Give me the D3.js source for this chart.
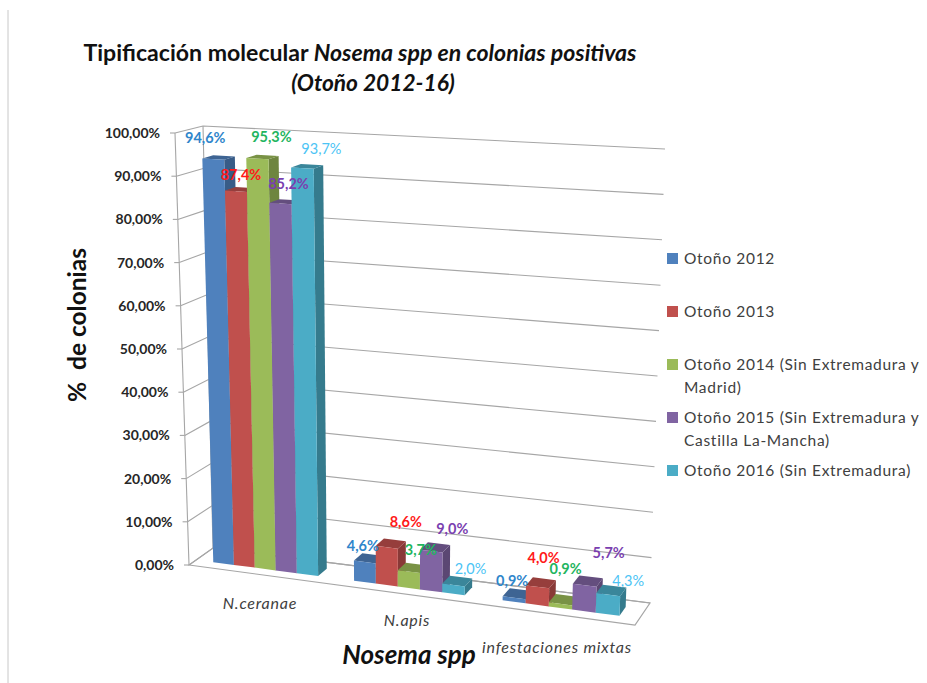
<!DOCTYPE html>
<html>
<head>
<meta charset="utf-8">
<script src="https://cdn.jsdelivr.net/npm/d3@7"></script>
<style>
html, body { margin: 0; padding: 0; background: #fff; }
text { font-family: Lato, "Open Sans", sans-serif; }
</style>
</head>
<body>
<div id="chartMain"></div>
<script>
const categories = ['N.ceranae', 'N.apis', 'infestaciones mixtas'];
const legendLines = [
    ['Otoño 2012'],
    ['Otoño 2013'],
    ['Otoño 2014 (Sin Extremadura y', 'Madrid)'],
    ['Otoño 2015 (Sin Extremadura y', 'Castilla La-Mancha)'],
    ['Otoño 2016 (Sin Extremadura)']
];
const otono2012 = [94.6, 4.6, 0.9];
const otono2013 = [87.4, 8.6, 4.0];
const otono2014 = [95.3, 3.7, 0.9];
const otono2015 = [85.2, 9.0, 5.7];
const otono2016 = [93.7, 2.0, 4.3];
const allSeries = [otono2012, otono2013, otono2014, otono2015, otono2016];
const yTicks = [0, 10, 20, 30, 40, 50, 60, 70, 80, 90, 100];

const colors = ['#4f81bd', '#c0504d', '#9bbb59', '#8064a2', '#4bacc6'];
const labelColors = ['#2f86cb', '#ff1a1a', '#1fb560', '#7a3fb0', '#4cc4f5'];

const width = 927, height = 683;

const svg = d3.select('#chartMain').append('svg')
    .attr('width', width)
    .attr('height', height)
    .style('display', 'block');

// Esquinas de la caja 3D en pantalla: [abajo, arriba] para cada esquina del suelo
const corners = {
    frontLeft:  [[189, 565], [175, 133]],
    frontRight: [[635, 625], [652, 160]],
    backLeft:   [[213, 548], [203, 126]],
    backRight:  [[650, 603], [665, 149]]
};

const x = d3.scaleBand().domain(categories).range([0, 1]).paddingInner(0.25).paddingOuter(0.125);
const xSeries = d3.scaleBand().domain(d3.range(allSeries.length)).range([0, x.bandwidth()]);
const y = d3.scaleLinear().domain([0, 100]).range([0, 1]);
// Las barras quedan un poco por debajo de la rejilla, como en el original
const yBar = d3.scaleLinear().domain([0, 100]).range([0, 0.992]);

const perspective = u => u / (u + (1 - u) * 1.085);
const depthFront = 0.3, depthBack = 0.7;

// u: a lo largo de las categorias, w: profundidad, k: altura de 0 a 1
function project(u, w, k) {
    const t = perspective(u);
    const edge = c => d3.interpolate(c[0], c[1])(k);
    const front = d3.interpolate(edge(corners.frontLeft), edge(corners.frontRight))(t);
    const back = d3.interpolate(edge(corners.backLeft), edge(corners.backRight))(t);
    return d3.interpolate(front, back)(w);
}

const poly = pts => 'M' + pts.map(p => p.join(',')).join('L') + 'Z';
const gridColor = '#a6a6a6';

// Suelo
svg.append('path')
    .attr('d', poly([project(0, 0, 0), project(1, 0, 0), project(1, 1, 0), project(0, 1, 0)]))
    .attr('fill', '#fff')
    .attr('stroke', gridColor)
    .attr('stroke-width', 1.2);

// Rejilla en pared izquierda y fondo
const grid = svg.append('g')
    .attr('fill', 'none')
    .attr('stroke', gridColor)
    .attr('stroke-width', 1.1);

yTicks.forEach(t => {
    grid.append('path').attr('d', d3.line()([project(0, 0, y(t)), project(0, 1, y(t)), project(1, 1, y(t))]));
    const p = project(0, 0, y(t));
    grid.append('line')
        .attr('x1', p[0] - 5).attr('x2', p[0])
        .attr('y1', p[1]).attr('y2', p[1]);
});
grid.append('path').attr('d', d3.line()([project(0, 0, 0), project(0, 0, 1)]));
grid.append('path').attr('d', d3.line()([project(0, 1, 0), project(0, 1, 1)]));

// Etiquetas del eje Y
const yFormat = d3.formatLocale({ decimal: ',', thousands: '.', grouping: [3], currency: ['', ''] }).format('.2f');
svg.append('g').selectAll('text').data(yTicks).join('text')
    .attr('x', d => project(0, 0, y(d))[0] - 15)
    .attr('y', d => project(0, 0, y(d))[1] + 5)
    .attr('text-anchor', 'end')
    .attr('font-size', 14)
    .attr('font-weight', 700)
    .attr('fill', '#262626')
    .text(d => yFormat(d) + '%');

// Barras, de izquierda a derecha
const barsData = categories.flatMap((c, ci) => allSeries.map((s, si) => ({ c, ci, si, value: s[ci] })));
const bars = svg.append('g').selectAll('g').data(barsData).join('g');

const u0 = d => x(d.c) + xSeries(d.si);
const u1 = d => u0(d) + xSeries.bandwidth();

bars.append('path')
    .attr('fill', d => d3.color(colors[d.si]).darker(0.95))
    .attr('d', d => poly([project(u1(d), depthFront, 0), project(u1(d), depthBack, 0),
        project(u1(d), depthBack, yBar(d.value)), project(u1(d), depthFront, yBar(d.value))]));
bars.append('path')
    .attr('fill', d => d3.color(colors[d.si]).darker(0.7))
    .attr('d', d => poly([project(u0(d), depthFront, yBar(d.value)), project(u1(d), depthFront, yBar(d.value)),
        project(u1(d), depthBack, yBar(d.value)), project(u0(d), depthBack, yBar(d.value))]));
bars.append('path')
    .attr('fill', d => colors[d.si])
    .attr('d', d => poly([project(u0(d), depthFront, 0), project(u1(d), depthFront, 0),
        project(u1(d), depthFront, yBar(d.value)), project(u0(d), depthFront, yBar(d.value))]));

// Etiquetas de datos: desplazamiento de cada una respecto a la cima de su barra
const labelOffsets = [
    [-8, -16], [5, -11], [14, -17], [8, -15], [19, -14],
    [-2, -11], [19, -20], [12, -17], [21, -17], [17, -11],
    [-2, -12], [6, -24], [5, -30], [24, -27], [20, -9]
];
const dataFormat = d => d.toFixed(1).replace('.', ',') + '%';
svg.append('g').selectAll('text').data(barsData).join('text')
    .attr('x', (d, i) => project((u0(d) + u1(d)) / 2, depthFront, yBar(d.value))[0] + labelOffsets[i][0])
    .attr('y', (d, i) => project((u0(d) + u1(d)) / 2, depthFront, yBar(d.value))[1] + labelOffsets[i][1])
    .attr('text-anchor', 'middle')
    .attr('font-size', 14.5)
    .attr('font-weight', d => d.si === 4 ? 400 : 700)
    .attr('fill', d => labelColors[d.si])
    .text(d => dataFormat(d.value));

// Etiquetas de categoria
const catLabelPos = [[260, 609], [407, 626], [557, 653]];
svg.append('g').selectAll('text').data(categories).join('text')
    .attr('x', (d, i) => catLabelPos[i][0])
    .attr('y', (d, i) => catLabelPos[i][1])
    .attr('text-anchor', 'middle')
    .attr('font-size', 16)
    .attr('font-style', 'italic')
    .attr('letter-spacing', 0.8)
    .attr('fill', '#404040')
    .text(d => d);

// Leyenda
const legendTop = [259, 312, 365, 418, 471];
const legend = svg.append('g').selectAll('g').data(legendLines).join('g')
    .attr('transform', (d, i) => `translate(667,${legendTop[i]})`);
legend.append('rect')
    .attr('x', 0).attr('y', -6).attr('width', 11).attr('height', 11)
    .attr('fill', (d, i) => colors[i]);
legend.selectAll('text').data(d => d).join('text')
    .attr('x', 17)
    .attr('y', (d, i) => 5 + i * 22.5)
    .attr('font-size', 15.5)
    .attr('letter-spacing', 0.7)
    .attr('fill', '#404040')
    .text(d => d);

// Titulos
const title = svg.append('text').attr('x', 360).attr('y', 61)
    .attr('text-anchor', 'middle').attr('font-size', 23.1).attr('font-weight', 700).attr('fill', '#111');
title.append('tspan').text('Tipificación molecular ');
title.append('tspan').attr('font-style', 'italic').text('Nosema spp en colonias positivas');
svg.append('text').attr('x', 373).attr('y', 91)
    .attr('text-anchor', 'middle').attr('font-size', 22.7).attr('font-weight', 700)
    .attr('font-style', 'italic').attr('fill', '#111')
    .text('(Otoño 2012-16)');

svg.append('text')
    .attr('transform', 'translate(86,325) rotate(-90)')
    .attr('text-anchor', 'middle').attr('font-size', 24.5).attr('font-weight', 700).attr('fill', '#111')
    .attr('xml:space', 'preserve')
    .text('%  de colonias');

svg.append('text').attr('x', 409).attr('y', 664)
    .attr('text-anchor', 'middle').attr('font-size', 26).attr('font-weight', 700)
    .attr('font-style', 'italic').attr('fill', '#111')
    .text('Nosema spp');

// Borde izquierdo de la imagen
svg.append('line')
    .attr('x1', 8).attr('x2', 8).attr('y1', 10).attr('y2', 683)
    .attr('stroke', '#c8c8c8').attr('stroke-width', 1);
</script>
</body>
</html>
